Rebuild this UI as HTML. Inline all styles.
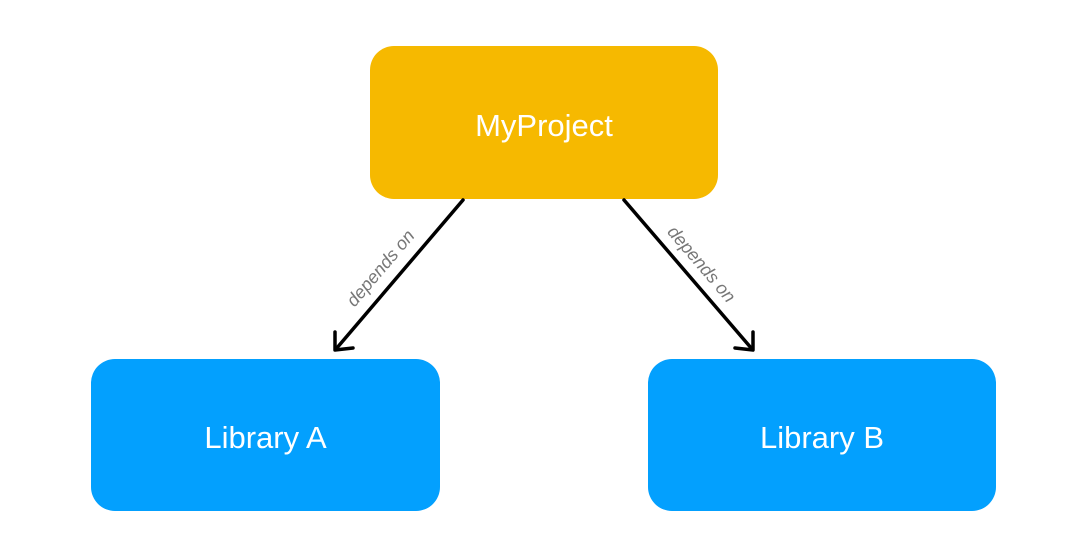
<!DOCTYPE html>
<html><head><style>
body{margin:0;width:1088px;height:560px;background:#fff;position:relative;overflow:hidden;font-family:"Liberation Sans",sans-serif}
.b{position:absolute;border-radius:24px;color:#fff;font-size:31px;display:flex;align-items:center;justify-content:center;box-sizing:border-box;padding-top:6px}
</style></head><body>
<div class="b" style="left:370px;top:46px;width:348px;height:153px;background:#f6b900">MyProject</div>
<div class="b" style="left:91px;top:359px;width:349px;height:152px;background:#03a0fe">Library A</div>
<div class="b" style="left:648px;top:359px;width:348px;height:152px;background:#03a0fe">Library B</div>
<svg width="1088" height="560" style="position:absolute;left:0;top:0">
<g stroke="#000" stroke-width="3.5" fill="none" stroke-linecap="round" stroke-linejoin="round">
<line x1="463" y1="200" x2="336" y2="349"/>
<polyline points="335,332 335,350 353,348"/>
<line x1="624" y1="200" x2="752" y2="349"/>
<polyline points="735,348 753,350 753,332"/>
</g>
<text x="0" y="0" transform="translate(385,272) rotate(-49.5)" text-anchor="middle" font-size="18" fill="#777" font-family="Liberation Sans" font-style="italic">depends on</text>
<text x="0" y="0" transform="translate(697,268) rotate(49.5)" text-anchor="middle" font-size="18" fill="#777" font-family="Liberation Sans" font-style="italic">depends on</text>
</svg>
</body></html>
